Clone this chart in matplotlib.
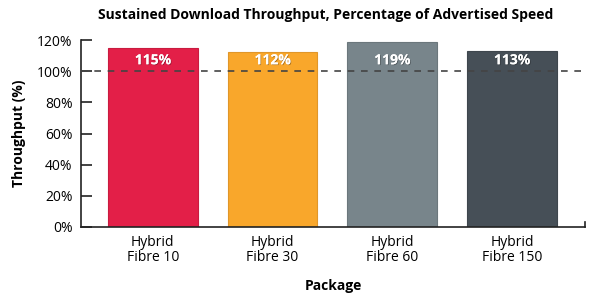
import matplotlib
matplotlib.use("Agg")
import matplotlib.pyplot as plt
import matplotlib.patheffects as pe
import numpy as np

packages = ["Hybrid\nFibre 10", "Hybrid\nFibre 30", "Hybrid\nFibre 60", "Hybrid\nFibre 150"]
throughput = [115, 112, 119, 113]
labels = ["115%", "112%", "119%", "113%"]
colors = ["#E31F48", "#F9A72B", "#78858B", "#464F57"]
edges = ["#C91B40", "#E0962A", "#6B777C", "#3E464D"]
yticks = [0, 20, 40, 60, 80, 100, 120]

plt.rcParams['font.family'] = ['Open Sans', 'DejaVu Sans']

fig = plt.figure(figsize=(6, 3), dpi=100)
ax = fig.add_axes([81/600, 73/300, 504/600, 187/300])

x = np.arange(len(packages))
ax.bar(x, throughput, width=0.75, color=colors, edgecolor=edges, linewidth=0.8, zorder=2)
ax.axhline(100, color="#444444", linestyle=(0, (4, 4)), linewidth=1.2, zorder=3)

for xi, lab in zip(x, labels):
    ax.text(xi, 107, lab, ha="center", va="center", color="white", fontsize=10,
            fontweight="bold", zorder=4,
            path_effects=[pe.withSimplePatchShadow(offset=(0.6, -0.6), shadow_rgbFace="#000000", alpha=0.3), pe.Normal()])

ax.set_xlim(-0.6, 3.61)
ax.set_ylim(0, 120)
ax.set_yticks(yticks)
ax.set_yticklabels([f"{v}%" for v in yticks], fontsize=10)
ax.set_xticks(x)
ax.set_xticklabels(packages, fontsize=10, linespacing=0.95)
ax.tick_params(axis="y", direction="in", length=8, width=1.2, pad=6, color="#222222")
ax.tick_params(axis="x", length=0, pad=6)

for s in ["top", "right"]:
    ax.spines[s].set_visible(False)
for s in ["left", "bottom"]:
    ax.spines[s].set_linewidth(1.2)
    ax.spines[s].set_color("#222222")
# small end mark on x axis
ax.plot([1, 1], [0, 0.025], transform=ax.transAxes, color="#222222", lw=1.2, clip_on=False)

ax.set_ylabel("Throughput (%)", fontsize=10, fontweight="bold", labelpad=8)
ax.set_xlabel("Package", fontsize=10, fontweight="bold", labelpad=10)
fig.text(326/600, 1 - 15/300, "Sustained Download Throughput, Percentage of Advertised Speed",
         ha="center", va="center", fontsize=10, fontweight="bold")

fig.savefig("out.png", dpi=100)
